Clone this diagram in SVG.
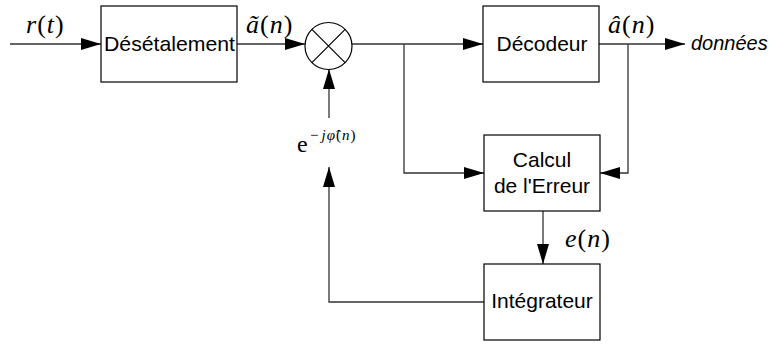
<svg xmlns="http://www.w3.org/2000/svg" width="776" height="344" viewBox="0 0 776 344">
<style>
.box{fill:#fff;stroke:#000;stroke-width:1.2}
.lbl{font-family:"Liberation Sans",Arial,sans-serif;font-size:21px;fill:#000;text-anchor:middle}
.ital{font-family:"Liberation Sans",Arial,sans-serif;font-size:20px;font-style:italic;fill:#000}
.math{font-family:"Liberation Serif","Times New Roman",serif;font-size:26px;fill:#000;letter-spacing:1px}
.mi{font-style:italic}
.wire{fill:none;stroke:#333;stroke-width:1.3}
</style>
<defs>
<marker id="arr" viewBox="0 0 20 12" refX="20" refY="6" markerWidth="20" markerHeight="12" markerUnits="userSpaceOnUse" orient="auto">
<polygon points="0,0 20,6 0,12" fill="#000"/>
</marker>
</defs>
<rect width="776" height="344" fill="#fff"/>
<g id="connectors">
<path class="wire" d="M10,44 H101" marker-end="url(#arr)"/>
<path class="wire" d="M237,44 H305" marker-end="url(#arr)"/>
<path class="wire" d="M351,44 H483" marker-end="url(#arr)"/>
<path class="wire" d="M404,44 V173 H484" marker-end="url(#arr)"/>
<path class="wire" d="M599,44 H685" marker-end="url(#arr)"/>
<path class="wire" d="M628,44 V173 H600" marker-end="url(#arr)"/>
<path class="wire" d="M543,211 V264" marker-end="url(#arr)"/>
<path class="wire" d="M329,118 V69" marker-end="url(#arr)"/>
<path class="wire" d="M484,302 H329 V167" marker-end="url(#arr)"/>
</g>
<g id="desetalement">
<rect class="box" x="101" y="6" width="136" height="76"/>
<text class="lbl" x="169.5" y="51" textLength="131" lengthAdjust="spacingAndGlyphs">Désétalement</text>
</g>
<g id="multiplier">
<circle cx="328.5" cy="46" r="23.5" fill="#fff" stroke="#000" stroke-width="1.2"/>
<path d="M311.9,29.4 L345.1,62.6 M345.1,29.4 L311.9,62.6" stroke="#000" stroke-width="1.2"/>
</g>
<g id="decodeur">
<rect class="box" x="483" y="6" width="116" height="76"/>
<text class="lbl" x="542" y="51">Décodeur</text>
</g>
<g id="calcul">
<rect class="box" x="484" y="135" width="116" height="76"/>
<text class="lbl" x="542" y="166.5">Calcul</text>
<text class="lbl" x="542" y="193">de l'Erreur</text>
</g>
<g id="integrateur">
<rect class="box" x="484" y="264" width="116" height="76"/>
<text class="lbl" x="542" y="308">Intégrateur</text>
</g>
<g id="labels">
<text class="math" x="26" y="33"><tspan class="mi">r</tspan>(<tspan class="mi">t</tspan>)</text>
<text class="math" x="246" y="33"><tspan class="mi">ã</tspan>(<tspan class="mi">n</tspan>)</text>
<text class="math" x="608" y="33"><tspan class="mi">â</tspan>(<tspan class="mi">n</tspan>)</text>
<text class="math" x="565" y="247"><tspan class="mi">e</tspan>(<tspan class="mi">n</tspan>)</text>
<text class="ital" x="691" y="50">données</text>
<text class="math" x="297" y="152" style="font-size:24px;letter-spacing:0">e</text>
<text class="math" x="310" y="140" style="font-size:15px;letter-spacing:1px">−<tspan class="mi" dx="2">jφ̂</tspan>(<tspan class="mi">n</tspan>)</text>
</g>
</svg>
